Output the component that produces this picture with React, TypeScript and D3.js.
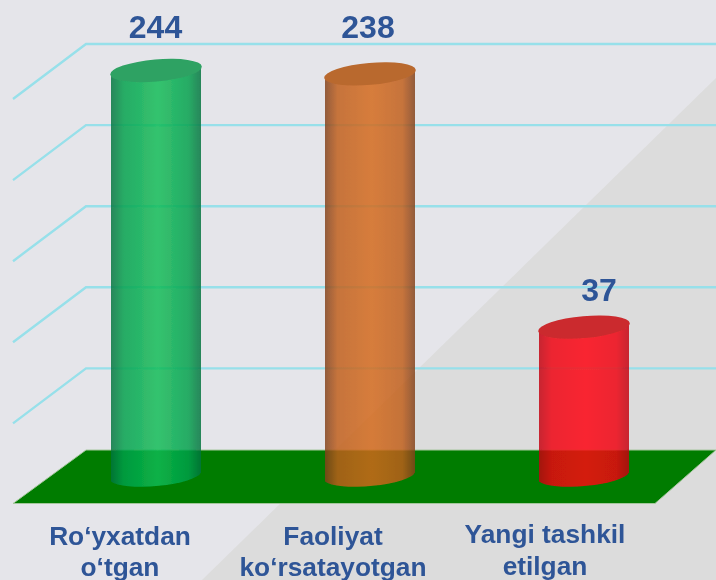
import React from "react";
import * as d3 from "d3";

const categories = ["Ro‘yxatdan o‘tgan", "Faoliyat ko‘rsatayotgan", "Yangi tashkil etilgan"];
const categoryLines = [["Ro‘yxatdan", "o‘tgan"], ["Faoliyat", "ko‘rsatayotgan"], ["Yangi tashkil", "etilgan"]];
const values = [244, 238, 37];
const valueLabels = ["244", "238", "37"];
const gridSteps = [0, 1, 2, 3, 4, 5];

const edgeColors = ["rgb(7,115,62)", "rgb(130,64,25)", "rgb(195,0,15)"];
const midColors = ["rgb(0,160,74)", "rgb(192,93,25)", "rgb(240,5,15)"];
const coreColors = ["rgb(14,188,85)", "rgb(212,104,25)", "rgb(255,7,15)"];
const capColors = ["#2fa264", "#b9692f", "#cb2b2e"];

const W = 716;
const H = 580;
const backLeft = 86;
const floorBack = 450;
const floorFront = 503.5;
const sideDx = -73;
const baseY = 477;
const rx = 46;
const ry = 11;
const tilt = -5;
const endDy = 4.5;
const textBlue = "#2f5597";
const font = "'Liberation Sans', Arial, sans-serif";

// The picture's cylinders are not proportional to a linear axis; a log scale reads them closely.
const yScale = d3.scaleLog().domain([12.3, 244]).range([baseY, 70.5]);
const xScale = d3.scalePoint<string>().domain(categories).range([156, 584]);
const gridY = d3.scaleLinear().domain([0, 5]).range([floorBack - 0.5, 44]);
const labelX = [155.5, 368, 599];
const labelY = [38, 38, 301];
const nameX = [120, 333, 545];
const nameY = [[545, 576], [545, 576], [543, 575]];

const sideLine = d3.line<[number, number]>();

export default function App() {
  return (
    <svg
      width={W}
      height={H}
      viewBox={`0 0 ${W} ${H}`}
      style={{ position: "fixed", left: 0, top: 0, display: "block" }}
    >
      <defs>
        <filter id="soft" x="-5%" y="-5%" width="110%" height="110%">
          <feGaussianBlur stdDeviation="0.45" />
        </filter>
        {categories.map((c, i) => (
          <linearGradient id={`cyl${i}`} key={c} x1="0" x2="1" y1="0" y2="0">
            <stop offset="0" stopColor={edgeColors[i]} />
            <stop offset="0.14" stopColor={midColors[i]} />
            <stop offset="0.52" stopColor={coreColors[i]} />
            <stop offset="0.86" stopColor={midColors[i]} />
            <stop offset="1" stopColor={edgeColors[i]} />
          </linearGradient>
        ))}
      </defs>

      <rect width={W} height={H} fill="#e5e5ea" />
      <path d="M716,78 L716,580 L202,580 Z" fill="#dcdcdc" />

      <g filter="url(#soft)">
        {gridSteps.slice(1).map((s) => {
          const y = gridY(s);
          return (
            <path
              key={s}
              d={sideLine([[backLeft + sideDx, y + 55], [backLeft, y], [W, y]]) ?? ""}
              fill="none"
              stroke="#97e0ea"
              strokeWidth={2.4}
            />
          );
        })}

        <polygon
          points={`${backLeft},${floorBack} ${W},${floorBack} 655,${floorFront} 13,${floorFront}`}
          fill="#007c00"
          stroke="#a4c79c"
          strokeWidth={1}
        />

        {categories.map((c, i) => {
          const cx = xScale(c) ?? 0;
          const top = yScale(values[i]);
          const l = cx - 45;
          const r = cx + 45;
          return (
            <g key={c}>
              <path
                d={`M${l},${top + endDy} L${l},${baseY + endDy} A${rx},${ry} ${tilt} 0 0 ${r},${baseY - endDy} L${r},${top - endDy} Z`}
                fill={`url(#cyl${i})`}
                opacity={0.83}
              />
              <ellipse
                cx={cx}
                cy={top}
                rx={rx}
                ry={ry}
                fill={capColors[i]}
                transform={`rotate(${tilt} ${cx} ${top})`}
              />
            </g>
          );
        })}
      </g>

      <g filter="url(#soft)">
        {categories.map((c, i) => (
          <text
            key={c}
            x={labelX[i]}
            y={labelY[i]}
            textAnchor="middle"
            fontFamily={font}
            fontWeight="bold"
            fontSize={32}
            fill={textBlue}
          >
            {valueLabels[i]}
          </text>
        ))}

        {categoryLines.map((lines, i) =>
          lines.map((t, j) => (
            <text
              key={t}
              x={nameX[i]}
              y={nameY[i][j]}
              textAnchor="middle"
              fontFamily={font}
              fontWeight="bold"
              fontSize={26.3}
              fill={textBlue}
            >
              {t}
            </text>
          ))
        )}
      </g>
    </svg>
  );
}
